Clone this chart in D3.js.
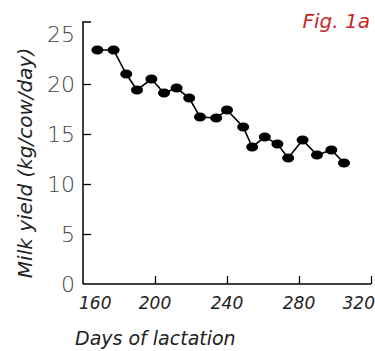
<!DOCTYPE html>
<html>
<head>
<meta charset="utf-8">
<script src="https://cdn.jsdelivr.net/npm/d3@7"></script>
<style>
  body { margin: 0; background: #fff; }
  svg text { font-family: "DejaVu Sans", sans-serif; }
</style>
</head>
<body>
<div class="chart"></div>
<script>
// values
const days = [168, 177, 184, 190, 198, 205, 212, 219, 225, 234, 240, 249, 254, 261, 268, 274, 282, 290, 298, 305];
const milk = [23.4, 23.4, 21.0, 19.4, 20.5, 19.1, 19.6, 18.6, 16.7, 16.6, 17.4, 15.7, 13.7, 14.7, 14.0, 12.6, 14.4, 12.9, 13.4, 12.1];
const xTicks = [160, 200, 240, 280, 320];
const yTicks = [0, 5, 10, 15, 20, 25];

const width = 375;
const height = 351;
const points = days.map((d, i) => ({day: d, milk: milk[i]}));

const x = d3.scaleLinear().domain([160, 320]).range([83, 371]);
const y = d3.scaleLinear().domain([0, 25]).range([284, 34]);

const svg = d3.select('.chart').append('svg')
  .attr('width', width).attr('height', height);

// y axis, ticks point inward
const yAxis = svg.append('g')
  .attr('transform', `translate(${x(160)},0)`)
  .call(d3.axisRight(y).tickValues(yTicks.slice(1, 5)).tickSize(8).tickFormat(''));
yAxis.select('.domain').remove();
yAxis.selectAll('line').attr('stroke', '#000').attr('stroke-width', 1.3);
svg.append('path')
  .attr('d', `M${x(160) + 8},22H${x(160)}V${y(0)}`)
  .attr('fill', 'none').attr('stroke', '#000').attr('stroke-width', 1.5);

svg.selectAll('.ylab').data(yTicks).enter()
  .append('text')
  .attr('class', 'ylab')
  .attr('x', 75)
  .attr('y', d => y(d))
  .attr('dy', '0.36em')
  .attr('text-anchor', 'end')
  .attr('font-size', 22)
  .attr('font-weight', 300)
  .attr('fill', '#444')
  .text(d => d);

// x axis
const xAxis = svg.append('g')
  .attr('transform', `translate(0,${y(0)})`)
  .call(d3.axisTop(x).tickValues(xTicks.slice(1)).tickSize(8).tickFormat(''));
xAxis.select('.domain').remove();
xAxis.selectAll('line').attr('stroke', '#000').attr('stroke-width', 1.3);
svg.append('line')
  .attr('x1', x(160)).attr('x2', x(320))
  .attr('y1', y(0)).attr('y2', y(0))
  .attr('stroke', '#000').attr('stroke-width', 1.5);

svg.selectAll('.xlab').data(xTicks).enter()
  .append('text')
  .attr('class', 'xlab')
  .attr('x', (d, i) => i === 0 ? x(d) - 4 : i === xTicks.length - 1 ? x(d) + 4 : x(d))
  .attr('y', 309)
  .attr('text-anchor', (d, i) => i === 0 ? 'start' : i === xTicks.length - 1 ? 'end' : 'middle')
  .attr('font-size', 17)
  .attr('font-style', 'italic')
  .attr('font-weight', 300)
  .attr('fill', '#222')
  .text(d => d);

// line and markers
const line = d3.line().x(d => x(d.day)).y(d => y(d.milk));
svg.append('path')
  .datum(points)
  .attr('d', line)
  .attr('fill', 'none')
  .attr('stroke', '#000')
  .attr('stroke-width', 1.6);

svg.selectAll('.dot').data(points).enter()
  .append('ellipse')
  .attr('class', 'dot')
  .attr('cx', d => x(d.day))
  .attr('cy', d => y(d.milk))
  .attr('rx', 6)
  .attr('ry', 4.6)
  .attr('fill', '#000');

// titles
svg.append('text')
  .attr('x', 75).attr('y', 345)
  .attr('font-size', 19)
  .attr('font-style', 'italic')
  .attr('font-weight', 300)
  .attr('fill', '#222')
  .text('Days of lactation');

svg.append('text')
  .attr('transform', `translate(32,163) rotate(-90)`)
  .attr('text-anchor', 'middle')
  .attr('font-size', 20)
  .attr('font-style', 'italic')
  .attr('font-weight', 300)
  .attr('fill', '#222')
  .text('Milk yield (kg/cow/day)');

svg.append('text')
  .attr('x', 370).attr('y', 28)
  .attr('text-anchor', 'end')
  .attr('font-size', 20)
  .attr('font-style', 'italic')
  .attr('fill', '#c8262b')
  .text('Fig. 1a');
</script>
</body>
</html>
